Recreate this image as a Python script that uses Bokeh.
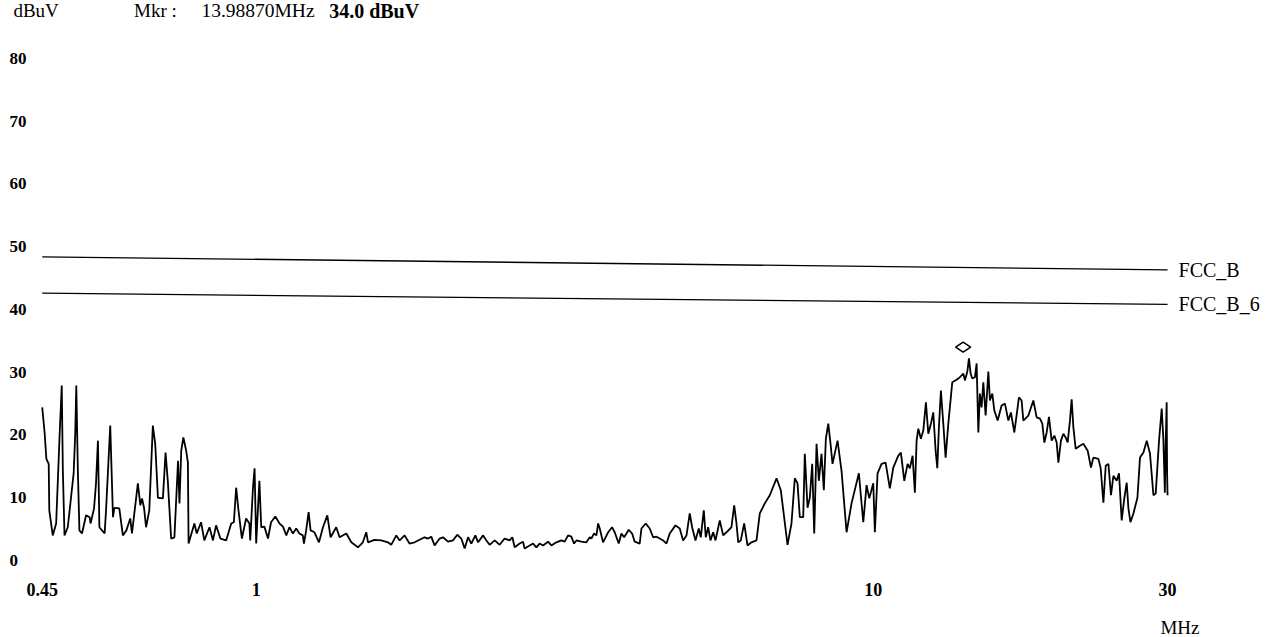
from bokeh.plotting import figure
from bokeh.models import Range1d, Label, ColumnDataSource
from bokeh.core.properties import value
from bokeh.embed import file_html
from bokeh.resources import INLINE

# ---- data (MHz, dBuV) ----
freq = [
    0.450, 0.454, 0.457, 0.461, 0.462, 0.468, 0.474, 0.480, 0.484, 0.486,
    0.489, 0.495, 0.501, 0.506, 0.509, 0.511, 0.514, 0.517, 0.522, 0.530,
    0.537, 0.539, 0.546, 0.550, 0.554, 0.557, 0.568, 0.571, 0.580, 0.586,
    0.589, 0.600, 0.608, 0.616, 0.625, 0.629, 0.643, 0.649, 0.653, 0.658,
    0.663, 0.671, 0.680, 0.686, 0.693, 0.706, 0.713, 0.719, 0.728, 0.737,
    0.747, 0.751, 0.756, 0.762, 0.770, 0.775, 0.777, 0.794, 0.801, 0.814,
    0.824, 0.840, 0.851, 0.861, 0.875, 0.894, 0.911, 0.920, 0.928, 0.936,
    0.948, 0.963, 0.975, 0.978, 0.988, 0.994, 1.000, 1.012, 1.019, 1.031,
    1.045, 1.057, 1.074, 1.091, 1.105, 1.119, 1.132, 1.147, 1.161, 1.175,
    1.190, 1.195, 1.205, 1.216, 1.225, 1.243, 1.264, 1.283, 1.304, 1.320,
    1.348, 1.365, 1.400, 1.426, 1.462, 1.489, 1.508, 1.518, 1.555, 1.595,
    1.635, 1.655, 1.687, 1.708, 1.740, 1.772, 1.806, 1.840, 1.875, 1.899,
    1.922, 1.946, 1.983, 2.008, 2.046, 2.084, 2.118, 2.150, 2.177, 2.205,
    2.232, 2.266, 2.289, 2.332, 2.361, 2.390, 2.435, 2.481, 2.527, 2.575,
    2.601, 2.624, 2.673, 2.707, 2.723, 2.775, 2.810, 2.845, 2.880, 2.917,
    2.972, 3.009, 3.066, 3.123, 3.162, 3.203, 3.242, 3.275, 3.304, 3.365,
    3.429, 3.472, 3.493, 3.529, 3.560, 3.583, 3.604, 3.649, 3.719, 3.774,
    3.811, 3.869, 3.908, 3.948, 4.016, 4.067, 4.107, 4.184, 4.211, 4.279,
    4.343, 4.399, 4.454, 4.509, 4.566, 4.623, 4.680, 4.781, 4.858, 4.920,
    4.982, 5.043, 5.088, 5.152, 5.216, 5.255, 5.314, 5.354, 5.402, 5.449,
    5.504, 5.552, 5.641, 5.713, 5.784, 5.892, 5.953, 6.004, 6.043, 6.101,
    6.179, 6.256, 6.349, 6.470, 6.550, 6.673, 6.799, 6.972, 7.084, 7.264,
    7.372, 7.464, 7.540, 7.605, 7.702, 7.748, 7.827, 7.894, 7.965, 8.025,
    8.095, 8.165, 8.246, 8.318, 8.381, 8.457, 8.529, 8.592, 8.755, 8.886,
    9.055, 9.224, 9.480, 9.637, 9.757, 9.855, 10.003, 10.063, 10.165, 10.317,
    10.474, 10.642, 10.779, 10.983, 11.089, 11.231, 11.370, 11.467, 11.584, 11.684,
    11.759, 11.834, 11.948, 12.057, 12.175, 12.285, 12.404, 12.515, 12.624, 12.704,
    12.780, 12.875, 12.991, 13.104, 13.237, 13.434, 13.654, 13.822, 13.999, 14.082,
    14.210, 14.295, 14.386, 14.475, 14.618, 14.712, 14.806, 14.893, 14.987, 15.084,
    15.215, 15.370, 15.460, 15.598, 15.717, 15.912, 16.149, 16.351, 16.561, 16.721,
    16.935, 17.229, 17.401, 17.514, 17.845, 18.181, 18.407, 18.633, 18.799, 18.943,
    19.107, 19.271, 19.464, 19.663, 19.834, 19.961, 20.153, 20.336, 20.513, 20.665,
    20.842, 20.974, 21.109, 21.293, 21.635, 21.912, 22.267, 22.542, 22.742, 23.176,
    23.374, 23.612, 23.818, 24.059, 24.291, 24.510, 24.815, 25.028, 25.279, 25.537,
    25.759, 25.924, 26.117, 26.410, 26.809, 27.068, 27.416, 27.757, 28.098, 28.459,
    28.706, 29.061, 29.352, 29.541, 29.700, 29.800, 29.900, 29.950, 30.000,
]
level = [
    24.4, 20.4, 16.2, 15.4, 8.0, 4.0, 5.9, 19.6, 27.9, 14.3,
    4.0, 5.3, 10.0, 13.9, 20.2, 27.9, 14.3, 4.8, 4.3, 7.2,
    6.9, 5.9, 8.3, 12.3, 19.1, 5.3, 4.3, 8.0, 21.5, 6.9,
    8.4, 8.3, 4.0, 4.8, 6.7, 4.3, 12.3, 8.8, 9.9, 8.4,
    5.3, 8.0, 21.5, 18.6, 10.0, 9.9, 17.2, 12.7, 3.5, 3.7,
    15.9, 9.1, 17.5, 19.6, 17.5, 15.6, 2.7, 5.9, 4.3, 6.1,
    3.2, 5.3, 3.2, 5.6, 3.5, 3.2, 5.9, 6.1, 11.6, 8.0,
    3.5, 6.7, 5.9, 3.2, 11.6, 14.7, 2.7, 12.7, 5.3, 5.4,
    3.5, 6.1, 7.0, 5.9, 5.4, 4.0, 5.3, 4.3, 5.1, 4.3,
    4.0, 2.7, 4.8, 7.7, 4.8, 4.5, 2.9, 5.3, 7.2, 3.7,
    5.3, 3.7, 4.3, 2.9, 2.1, 2.9, 4.5, 2.9, 3.3, 3.2,
    2.9, 2.5, 4.0, 3.2, 4.0, 2.7, 2.9, 3.3, 3.7, 3.5,
    3.8, 2.4, 3.5, 3.7, 3.0, 3.2, 4.1, 3.5, 1.9, 3.7,
    2.7, 4.0, 2.9, 4.0, 3.2, 2.5, 3.2, 2.5, 3.5, 3.2,
    3.7, 2.1, 2.7, 3.0, 1.9, 2.4, 2.7, 2.1, 2.7, 2.4,
    3.0, 2.4, 2.9, 3.2, 3.0, 4.0, 3.8, 2.7, 3.2, 3.0,
    2.9, 3.7, 3.5, 4.3, 4.0, 5.9, 5.1, 2.9, 4.5, 5.3,
    4.5, 2.7, 4.3, 3.7, 4.9, 4.3, 3.0, 2.7, 5.1, 5.9,
    5.1, 3.7, 3.8, 3.5, 3.2, 2.7, 4.3, 5.6, 5.1, 3.2,
    4.0, 7.5, 5.3, 3.2, 5.1, 3.7, 8.0, 3.7, 5.3, 3.2,
    4.5, 3.2, 6.4, 4.0, 4.5, 5.3, 8.8, 5.9, 2.9, 3.2,
    5.9, 2.4, 2.9, 3.2, 7.5, 9.1, 10.4, 13.1, 11.2, 2.5,
    5.9, 13.1, 12.3, 6.9, 6.9, 17.0, 8.4, 10.0, 15.4, 4.3,
    18.6, 12.7, 17.0, 11.2, 19.4, 21.8, 18.6, 15.4, 19.1, 14.3,
    4.5, 9.1, 13.9, 6.1, 12.0, 9.9, 12.3, 4.5, 13.9, 15.4,
    15.6, 11.5, 14.8, 16.7, 17.2, 12.7, 15.4, 14.7, 16.7, 10.8,
    19.1, 21.0, 19.4, 20.7, 25.2, 20.2, 21.8, 23.6, 17.5, 14.7,
    21.2, 27.1, 21.8, 16.4, 21.8, 28.4, 28.8, 29.2, 29.8, 28.7,
    30.1, 32.2, 29.8, 29.0, 29.2, 31.4, 20.4, 26.6, 24.4, 28.4,
    23.1, 30.1, 25.5, 26.6, 23.9, 22.3, 24.7, 25.0, 22.3, 23.6,
    20.4, 26.0, 25.5, 22.3, 23.1, 25.5, 22.8, 22.6, 21.8, 18.8,
    20.4, 22.9, 19.1, 19.9, 18.8, 15.6, 19.1, 20.2, 19.6, 18.8,
    22.3, 25.7, 21.2, 17.8, 18.3, 18.6, 17.5, 14.8, 16.4, 16.2,
    14.7, 9.2, 15.1, 15.4, 10.4, 13.5, 12.7, 13.9, 6.4, 10.0,
    12.4, 8.3, 6.1, 7.5, 10.0, 16.4, 17.2, 19.1, 17.0, 10.4,
    10.7, 19.1, 24.2, 19.1, 10.8, 19.1, 25.2, 13.9, 10.4,
]

limit_freq = [0.45, 30.0]
fcc_b = [48.4, 46.3]
fcc_b_6 = [42.6, 40.8]
limit_names = ["FCC_B", "FCC_B_6"]

mkr_freq = 13.98870
mkr_level = 34.0

x_ticks = [0.45, 1, 10, 30]
x_tick_labels = ["0.45", "1", "10", "30"]
y_ticks = [0, 10, 20, 30, 40, 50, 60, 70, 80]
y_tick_labels = [str(v) for v in y_ticks]

SERIF = "Liberation Serif"

X_START, X_END = 0.3851, 43.40
Y_START, Y_END = -12.27, 89.24

p = figure(width=1266, height=637, x_axis_type="log",
           x_range=Range1d(X_START, X_END), y_range=Range1d(Y_START, Y_END),
           output_backend="svg", toolbar_location=None, title=None,
           x_axis_location=None, y_axis_location=None,
           min_border_left=0, min_border_right=0, min_border_top=0,
           min_border_bottom=0)
p.outline_line_color = None
p.background_fill_color = "white"
p.border_fill_color = "white"
p.grid.visible = False

# tick labels (drawn from the tick arrays)
ysrc = ColumnDataSource(dict(x=[X_START] * len(y_ticks), y=y_ticks, t=y_tick_labels))
p.text("x", "y", text="t", source=ysrc, x_offset=9, text_align="left",
       text_baseline="middle", text_font=value(SERIF), text_font_style="bold",
       text_font_size="17px", text_color="black")
xsrc = ColumnDataSource(dict(x=x_ticks, y=[y_ticks[0]] * len(x_ticks), t=x_tick_labels))
p.text("x", "y", text="t", source=xsrc, y_offset=29, text_align="center",
       text_baseline="middle", text_font=value(SERIF), text_font_style="bold",
       text_font_size="18px", text_color="black")

# limit lines
p.line(limit_freq, fcc_b, line_color="black", line_width=1.3)
p.line(limit_freq, fcc_b_6, line_color="black", line_width=1.3)
for name, lim in zip(limit_names, [fcc_b, fcc_b_6]):
    p.add_layout(Label(x=limit_freq[-1], y=lim[-1], x_offset=11, text=name,
                       text_font=SERIF, text_font_size="20px",
                       text_baseline="middle", text_align="left",
                       text_color="black"))

# trace
src = ColumnDataSource(dict(f=freq, v=level))
p.line("f", "v", source=src, line_color="black", line_width=1.8)

# marker
p.scatter([mkr_freq], [mkr_level], marker="diamond", angle=1.5708, size=15,
          fill_color="white", line_color="black", line_width=1.5)

# header texts
HDR_Y = 87.6
p.add_layout(Label(x=0.4041, y=HDR_Y, text="dBuV", text_font=SERIF,
                   text_font_size="19px", text_baseline="middle", text_color="black"))
p.add_layout(Label(x=0.634, y=HDR_Y, text="Mkr :", text_font=SERIF,
                   text_font_size="19px", text_baseline="middle", text_color="black"))
p.add_layout(Label(x=0.815, y=HDR_Y, text=f"{mkr_freq:.5f}MHz", text_font=SERIF,
                   text_font_size="19.5px", text_baseline="middle", text_color="black"))
p.add_layout(Label(x=1.313, y=HDR_Y, text=f"{mkr_level:.1f} dBuV", text_font=SERIF,
                   text_font_size="20px", text_font_style="bold",
                   text_baseline="middle", text_color="black"))
p.add_layout(Label(x=31.42, y=-10.6, text="MHz", text_font=SERIF,
                   text_font_size="19px", text_baseline="middle",
                   text_align="center", text_color="black"))

open("out.html", "w").write(file_html(p, INLINE))
